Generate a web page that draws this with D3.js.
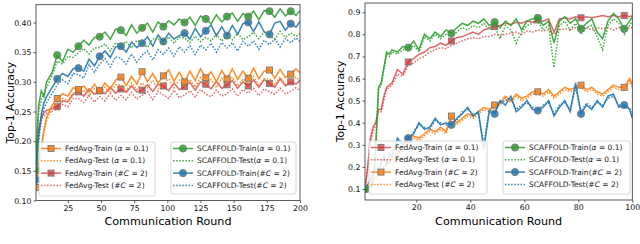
<!DOCTYPE html>
<html>
<head>
<meta charset="utf-8">
<script src="https://cdn.jsdelivr.net/npm/d3@7"></script>
<style>
  body { margin: 0; background: #fff; }
  svg { font-family: "DejaVu Sans", sans-serif; }
</style>
</head>
<body>
<div id="chart"></div>
<script>
// rounds
var roundsL = [1,2,3,5,7,9,13,17,21,25,29,33,37,41,45,49,53,57,61,65,69,73,77,81,85,89,93,97,101,105,109,113,117,121,125,129,133,137,141,145,149,153,157,161,165,169,173,177,181,185,189,193,197,200];
var roundsR = [1,2,3,4,5,6,7,8,9,10,11,13,15,17,19,21,23,25,27,29,31,33,35,37,39,41,43,45,47,49,51,53,55,57,59,61,63,65,67,69,71,73,75,77,79,81,83,85,87,89,91,93,95,97,99,100];
var markRounds = [1,17,33,49,65,81,97,113,129,145,161,177,193];

// left panel
var fedTrainA_L = [.122,.14,.16,.19,.22,.24,.26,.272,.280,.276,.290,.287,.293,.283,.296,.285,.298,.288,.303,.308,.294,.309,.296,.317,.300,.314,.298,.310,.320,.301,.316,.300,.318,.302,.322,.307,.317,.300,.319,.305,.322,.304,.318,.306,.323,.305,.318,.320,.306,.321,.307,.313,.322,.315];
var fedTestA_L = [.12,.135,.155,.185,.215,.235,.255,.265,.272,.268,.281,.28,.286,.276,.288,.28,.291,.281,.295,.295,.285,.298,.287,.298,.290,.302,.288,.296,.305,.290,.303,.292,.304,.291,.307,.296,.304,.290,.306,.296,.308,.293,.305,.296,.309,.294,.305,.305,.295,.308,.296,.302,.308,.302];
var fedTrainC_L = [.15,.19,.22,.24,.248,.252,.255,.258,.268,.266,.279,.283,.276,.288,.279,.285,.280,.291,.281,.288,.282,.293,.283,.286,.295,.284,.296,.293,.285,.298,.287,.292,.299,.286,.300,.296,.288,.301,.289,.295,.302,.289,.300,.293,.303,.291,.304,.297,.291,.305,.293,.300,.296,.303];
var fedTestC_L = [.15,.185,.215,.235,.243,.247,.25,.255,.262,.258,.272,.272,.265,.277,.266,.275,.268,.280,.269,.277,.270,.282,.271,.277,.283,.270,.284,.278,.272,.286,.273,.278,.285,.274,.287,.279,.275,.286,.276,.28,.288,.276,.287,.281,.289,.277,.288,.283,.279,.289,.280,.284,.290,.285];
var scTrainA_L = [.151,.22,.26,.285,.275,.30,.315,.345,.334,.355,.350,.360,.370,.362,.375,.376,.384,.372,.389,.387,.378,.396,.382,.391,.399,.384,.401,.393,.403,.396,.406,.400,.409,.395,.411,.406,.398,.413,.401,.410,.416,.402,.415,.410,.419,.405,.420,.419,.409,.423,.411,.419,.412,.420];
var scTestA_L = [.15,.21,.25,.27,.28,.29,.31,.335,.330,.343,.341,.349,.356,.347,.357,.358,.364,.352,.366,.360,.368,.357,.370,.365,.358,.372,.374,.362,.376,.365,.375,.374,.366,.377,.368,.375,.369,.380,.369,.377,.371,.382,.371,.376,.383,.373,.384,.378,.372,.385,.375,.382,.377,.381];
var scTrainC_L = [.135,.17,.21,.245,.265,.275,.29,.305,.314,.309,.322,.323,.318,.338,.327,.343,.352,.341,.359,.360,.350,.367,.358,.365,.376,.360,.379,.368,.382,.372,.378,.382,.372,.390,.376,.386,.396,.377,.393,.378,.395,.380,.398,.400,.385,.401,.384,.380,.399,.402,.387,.398,.392,.402];
var scTestC_L = [.13,.16,.20,.235,.255,.265,.28,.295,.303,.297,.314,.312,.306,.329,.316,.33,.339,.325,.342,.340,.330,.347,.333,.345,.352,.337,.354,.346,.357,.343,.359,.350,.361,.346,.362,.354,.365,.350,.366,.357,.366,.352,.368,.360,.369,.355,.370,.363,.372,.359,.373,.366,.374,.368];

// right panel
var fedTrainA_R = [.10,.20,.33,.38,.40,.46,.46,.52,.56,.57,.58,.64,.62,.675,.69,.71,.72,.74,.745,.76,.75,.77,.785,.79,.80,.81,.80,.82,.83,.835,.84,.85,.845,.855,.85,.86,.855,.865,.86,.87,.81,.87,.875,.87,.88,.875,.88,.875,.88,.885,.88,.885,.88,.885,.88,.885];
var fedTestA_R = [.10,.19,.31,.36,.39,.45,.45,.50,.55,.56,.57,.62,.61,.66,.67,.69,.70,.72,.73,.74,.735,.75,.76,.77,.78,.785,.78,.79,.79,.80,.795,.80,.805,.81,.80,.815,.81,.82,.815,.82,.80,.82,.825,.82,.83,.825,.83,.82,.83,.825,.83,.82,.83,.825,.83,.83];
var fedTrainC_R = [.10,.11,.12,.14,.15,.17,.18,.20,.21,.22,.24,.26,.28,.325,.34,.33,.35,.37,.36,.38,.36,.43,.40,.42,.44,.43,.45,.47,.46,.48,.49,.52,.50,.53,.51,.52,.54,.54,.53,.55,.52,.54,.56,.55,.56,.57,.55,.56,.54,.53,.55,.57,.56,.56,.60,.57];
var fedTestC_R = [.10,.11,.12,.13,.15,.16,.18,.19,.21,.22,.23,.25,.27,.31,.33,.32,.34,.36,.35,.37,.35,.42,.39,.41,.43,.42,.44,.46,.45,.47,.48,.51,.49,.52,.50,.51,.53,.53,.52,.54,.51,.53,.55,.54,.55,.56,.54,.55,.53,.52,.54,.56,.55,.55,.59,.56];
var scTrainA_R = [.10,.10,.11,.12,.30,.56,.58,.65,.72,.71,.73,.72,.745,.74,.77,.73,.80,.78,.81,.79,.82,.805,.83,.85,.84,.86,.85,.87,.84,.855,.83,.86,.84,.87,.82,.86,.87,.875,.84,.86,.76,.86,.88,.85,.87,.825,.85,.87,.81,.78,.86,.895,.87,.825,.86,.88];
var scTestA_R = [.10,.10,.10,.11,.28,.55,.57,.64,.71,.70,.72,.71,.73,.735,.75,.72,.79,.77,.80,.78,.80,.79,.81,.83,.82,.84,.83,.85,.82,.84,.78,.84,.82,.76,.81,.84,.85,.86,.82,.84,.65,.84,.86,.82,.85,.80,.83,.84,.79,.73,.84,.87,.85,.80,.84,.86];
var scTrainC_R = [.10,.12,.14,.17,.20,.18,.22,.25,.21,.26,.24,.33,.30,.33,.35,.40,.37,.38,.42,.39,.40,.39,.42,.44,.47,.43,.45,.28,.45,.44,.50,.48,.52,.45,.47,.50,.46,.455,.47,.50,.43,.47,.50,.45,.58,.44,.48,.46,.50,.47,.52,.53,.47,.48,.46,.42];
var scTestC_R = [.10,.11,.13,.16,.19,.19,.21,.24,.22,.25,.25,.32,.31,.32,.36,.39,.38,.37,.41,.40,.39,.40,.41,.45,.46,.44,.44,.30,.46,.45,.49,.50,.51,.46,.48,.49,.47,.46,.48,.49,.44,.48,.49,.46,.56,.45,.49,.47,.49,.48,.51,.52,.48,.47,.47,.43];

var yTicksL = [0.10,0.15,0.20,0.25,0.30,0.35,0.40];
var xTicksL = [25,50,75,100,125,150,175,200];
var yTicksR = [0.1,0.2,0.3,0.4,0.5,0.6,0.7,0.8,0.9];
var xTicksR = [20,40,60,80,100];

var blue = "#1f77b4", orange = "#ff7f0e", green = "#2ca02c", red = "#d62728";

var svg = d3.select("#chart").append("svg")
  .attr("width", 640)
  .attr("height", 244);

function drawPanel(p) {
  var x = d3.scaleLinear().domain(p.xDomain).range(p.xRange);
  var y = d3.scaleLinear().domain(p.yDomain).range(p.yRange);
  var g = svg.append("g");

  var clipId = "clip" + p.id;
  svg.append("clipPath").attr("id", clipId)
    .append("rect")
    .attr("x", p.xRange[0]).attr("y", p.yRange[1])
    .attr("width", p.xRange[1] - p.xRange[0])
    .attr("height", p.yRange[0] - p.yRange[1]);

  var plot = g.append("g").attr("clip-path", "url(#" + clipId + ")");

  p.series.forEach(function(s) {
    var pts = p.rounds.map(function(r, i) { return [r, s.values[i]]; });
    var line = d3.line().x(d => x(d[0])).y(d => y(d[1]));
    plot.append("path")
      .attr("d", line(pts))
      .attr("fill", "none")
      .attr("stroke", s.color)
      .attr("stroke-width", 1.5)
      .attr("stroke-opacity", s.alpha || 0.9)
      .attr("stroke-dasharray", s.dotted ? "1.5,1.6" : null);

    if (s.marker) {
      var mk = pts.filter(d => markRounds.indexOf(d[0]) >= 0);
      drawMarkers(plot, mk.map(d => [x(d[0]), y(d[1])]), s);
    }
  });

  // frame
  g.append("rect")
    .attr("x", p.xRange[0]).attr("y", p.yRange[1])
    .attr("width", p.xRange[1] - p.xRange[0])
    .attr("height", p.yRange[0] - p.yRange[1])
    .attr("fill", "none").attr("stroke", "#333").attr("stroke-width", 0.8);

  var xAxis = g.append("g")
    .attr("transform", `translate(0,${p.yRange[0]})`)
    .call(d3.axisBottom(x).tickValues(p.xTicks).tickSize(2.5).tickPadding(2).tickFormat(d3.format("d")));
  var yAxis = g.append("g")
    .attr("transform", `translate(${p.xRange[0]},0)`)
    .call(d3.axisLeft(y).tickValues(p.yTicks).tickSize(2.5).tickPadding(2).tickFormat(d3.format(p.yFormat)));
  [xAxis, yAxis].forEach(function(a) {
    a.select(".domain").remove();
    a.selectAll("line").attr("stroke", "#333").attr("stroke-width", 0.8);
    a.selectAll("text").attr("font-size", 7.8).attr("fill", "#111")
      .attr("font-family", "DejaVu Sans");
  });

  g.append("text")
    .attr("x", (p.xRange[0] + p.xRange[1]) / 2)
    .attr("y", 225)
    .attr("text-anchor", "middle")
    .attr("font-size", 11.2)
    .text("Communication Round");

  g.append("text")
    .attr("transform", `translate(${p.yLabelX},${(p.yRange[0] + p.yRange[1]) / 2}) rotate(-90)`)
    .attr("text-anchor", "middle")
    .attr("dy", "0.35em")
    .attr("font-size", 10.8)
    .text("Top-1 Accuracy");

  p.legends.forEach(function(lg) { drawLegend(g, lg); });
}

function drawMarkers(sel, pts, s) {
  pts.forEach(function(d) {
    if (s.marker === "circle") {
      sel.append("circle")
        .attr("cx", d[0]).attr("cy", d[1]).attr("r", 3.6)
        .attr("fill", s.color).attr("fill-opacity", 0.85)
        .attr("stroke", "#777").attr("stroke-width", 0.9);
    } else {
      sel.append("rect")
        .attr("x", d[0] - 3).attr("y", d[1] - 3)
        .attr("width", 6).attr("height", 6)
        .attr("fill", s.color).attr("fill-opacity", s.alpha || 0.85)
        .attr("stroke", "#777").attr("stroke-width", 0.9);
    }
  });
}

// label parts: plain text with italic math pieces
function addLabel(t, label) {
  label.forEach(function(part) {
    t.append("tspan")
      .attr("font-style", part[1] ? "italic" : null)
      .text(part[0]);
  });
}

function drawLegend(g, lg) {
  g.append("rect")
    .attr("x", lg.x).attr("y", lg.y)
    .attr("width", lg.w).attr("height", lg.h)
    .attr("rx", 2)
    .attr("fill", "#fff").attr("fill-opacity", 0.85)
    .attr("stroke", "#ccc").attr("stroke-width", 0.8);
  lg.items.forEach(function(it, i) {
    var cy = lg.y + 6.5 + i * 12.3;
    var hx0 = lg.x + 2, hx1 = lg.x + 22;
    g.append("line")
      .attr("x1", hx0).attr("x2", hx1).attr("y1", cy).attr("y2", cy)
      .attr("stroke", it.s.color).attr("stroke-width", 1.5)
      .attr("stroke-opacity", it.s.alpha || 0.9)
      .attr("stroke-dasharray", it.s.dotted ? "1.5,1.6" : null);
    if (it.s.marker) drawMarkers(g, [[(hx0 + hx1) / 2, cy]], it.s);
    var t = g.append("text")
      .attr("x", lg.x + 26).attr("y", cy)
      .attr("dy", "0.35em")
      .attr("font-size", 7.5)
      .attr("fill", "#222");
    addLabel(t, it.label);
  });
}

function lab(prefix, isA) {
  return isA
    ? [[prefix], ["α", true], [" = 0.1)"]]
    : [[prefix + "#"], ["C", true], [" = 2)"]];
}

// left panel series
var sFTA = { values: fedTrainA_L, color: orange, marker: "square" };
var sFEA = { values: fedTestA_L, color: orange, dotted: true };
var sFTC = { values: fedTrainC_L, color: red, marker: "square", alpha: 0.7 };
var sFEC = { values: fedTestC_L, color: red, dotted: true, alpha: 0.7 };
var sSTA = { values: scTrainA_L, color: green, marker: "circle" };
var sSEA = { values: scTestA_L, color: green, dotted: true };
var sSTC = { values: scTrainC_L, color: blue, marker: "circle" };
var sSEC = { values: scTestC_L, color: blue, dotted: true };

drawPanel({
  id: "L",
  rounds: roundsL,
  xDomain: [1, 200], xRange: [36, 300],
  yDomain: [0.10, 0.43], yRange: [200.5, 4.7],
  xTicks: xTicksL, yTicks: yTicksL, yFormat: ".2f",
  yLabelX: 10,
  series: [sFEC, sFTC, sFEA, sFTA, sSEC, sSTC, sSEA, sSTA],
  legends: [
    { x: 39, y: 142, w: 116, h: 54, items: [
      { s: sFTA, label: lab("FedAvg-Train (", true) },
      { s: sFEA, label: lab("FedAvg-Test (", true) },
      { s: sFTC, label: lab("FedAvg-Train (", false) },
      { s: sFEC, label: lab("FedAvg-Test (", false) }
    ]},
    { x: 171, y: 142, w: 125, h: 52, items: [
      { s: sSTA, label: lab("SCAFFOLD-Train(", true) },
      { s: sSEA, label: lab("SCAFFOLD-Test(", true) },
      { s: sSTC, label: lab("SCAFFOLD-Train(", false) },
      { s: sSEC, label: lab("SCAFFOLD-Test(", false) }
    ]}
  ]
});

// right panel series
var rFTA = { values: fedTrainA_R, color: red, marker: "square", alpha: 0.7 };
var rFEA = { values: fedTestA_R, color: red, dotted: true, alpha: 0.7 };
var rFTC = { values: fedTrainC_R, color: orange, marker: "square" };
var rFEC = { values: fedTestC_R, color: orange, dotted: true };
var rSTA = { values: scTrainA_R, color: green, marker: "circle" };
var rSEA = { values: scTestA_R, color: green, dotted: true };
var rSTC = { values: scTrainC_R, color: blue, marker: "circle" };
var rSEC = { values: scTestC_R, color: blue, dotted: true };

drawPanel({
  id: "R",
  rounds: roundsR,
  xDomain: [1, 100], xRange: [365, 632.3],
  yDomain: [0.05, 0.942], yRange: [200, 3],
  xTicks: xTicksR, yTicks: yTicksR, yFormat: ".1f",
  yLabelX: 340,
  series: [rFEA, rFTA, rFEC, rFTC, rSEC, rSTC, rSEA, rSTA],
  legends: [
    { x: 369, y: 141, w: 118, h: 53, items: [
      { s: rFTA, label: lab("FedAvg-Train (", true) },
      { s: rFEA, label: lab("FedAvg-Test (", true) },
      { s: rFTC, label: lab("FedAvg-Train (", false) },
      { s: rFEC, label: lab("FedAvg-Test (", false) }
    ]},
    { x: 503, y: 141, w: 127, h: 53, items: [
      { s: rSTA, label: lab("SCAFFOLD-Train(", true) },
      { s: rSEA, label: lab("SCAFFOLD-Test(", true) },
      { s: rSTC, label: lab("SCAFFOLD-Train(", false) },
      { s: rSEC, label: lab("SCAFFOLD-Test(", false) }
    ]}
  ]
});
</script>
</body>
</html>
